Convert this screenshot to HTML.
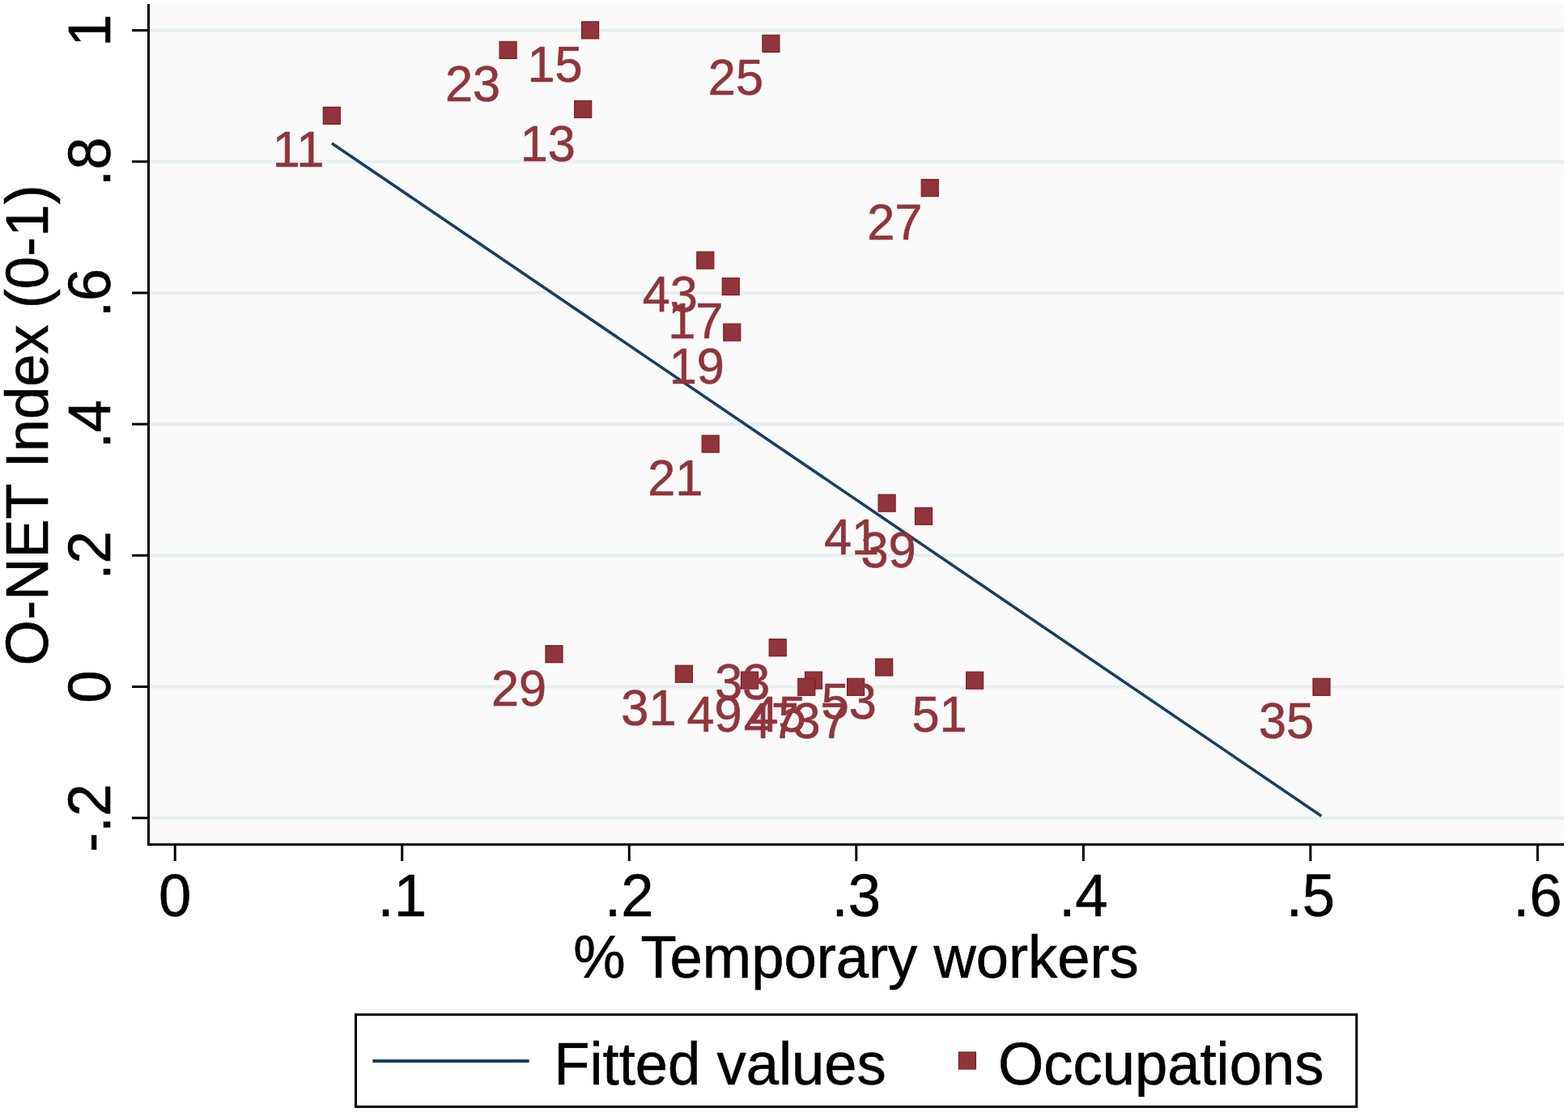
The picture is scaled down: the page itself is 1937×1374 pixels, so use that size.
<!DOCTYPE html>
<html><head><meta charset="utf-8"><title>O-NET Index vs % Temporary workers</title>
<style>html,body{margin:0;padding:0;background:#fff;}svg{display:block;} text{font-family:"Liberation Sans", Arial, Helvetica, sans-serif;}</style></head>
<body>

<svg width="1937" height="1374" viewBox="0 0 1937 1374">
<rect x="187" y="5" width="1745" height="1035" fill="#fafafa"/>
<line x1="187" y1="37.50" x2="1932" y2="37.50" stroke="#e7eff0" stroke-width="4"/>
<line x1="187" y1="199.70" x2="1932" y2="199.70" stroke="#e7eff0" stroke-width="4"/>
<line x1="187" y1="361.90" x2="1932" y2="361.90" stroke="#e7eff0" stroke-width="4"/>
<line x1="187" y1="524.10" x2="1932" y2="524.10" stroke="#e7eff0" stroke-width="4"/>
<line x1="187" y1="686.30" x2="1932" y2="686.30" stroke="#e7eff0" stroke-width="4"/>
<line x1="187" y1="848.50" x2="1932" y2="848.50" stroke="#e7eff0" stroke-width="4"/>
<line x1="187" y1="1010.70" x2="1932" y2="1010.70" stroke="#e7eff0" stroke-width="4"/>
<line x1="409.8" y1="176.9" x2="1632.3" y2="1008.2" stroke="#163f69" stroke-width="3.6"/>
<rect x="399.30" y="132.40" width="21.00" height="21.00" fill="#90353b" stroke="#801c24" stroke-width="1.2"/>
<rect x="709.70" y="124.50" width="21.00" height="21.00" fill="#90353b" stroke="#801c24" stroke-width="1.2"/>
<rect x="718.60" y="26.80" width="21.00" height="21.00" fill="#90353b" stroke="#801c24" stroke-width="1.2"/>
<rect x="892.30" y="343.50" width="21.00" height="21.00" fill="#90353b" stroke="#801c24" stroke-width="1.2"/>
<rect x="893.80" y="400.10" width="21.00" height="21.00" fill="#90353b" stroke="#801c24" stroke-width="1.2"/>
<rect x="867.20" y="538.00" width="21.00" height="21.00" fill="#90353b" stroke="#801c24" stroke-width="1.2"/>
<rect x="617.10" y="51.40" width="21.00" height="21.00" fill="#90353b" stroke="#801c24" stroke-width="1.2"/>
<rect x="941.90" y="43.40" width="21.00" height="21.00" fill="#90353b" stroke="#801c24" stroke-width="1.2"/>
<rect x="1138.20" y="221.70" width="21.00" height="21.00" fill="#90353b" stroke="#801c24" stroke-width="1.2"/>
<rect x="674.00" y="797.70" width="21.00" height="21.00" fill="#90353b" stroke="#801c24" stroke-width="1.2"/>
<rect x="834.40" y="822.20" width="21.00" height="21.00" fill="#90353b" stroke="#801c24" stroke-width="1.2"/>
<rect x="950.20" y="789.70" width="21.00" height="21.00" fill="#90353b" stroke="#801c24" stroke-width="1.2"/>
<rect x="1622.00" y="838.30" width="21.00" height="21.00" fill="#90353b" stroke="#801c24" stroke-width="1.2"/>
<rect x="1046.60" y="838.30" width="21.00" height="21.00" fill="#90353b" stroke="#801c24" stroke-width="1.2"/>
<rect x="1130.50" y="627.30" width="21.00" height="21.00" fill="#90353b" stroke="#801c24" stroke-width="1.2"/>
<rect x="1085.10" y="611.10" width="21.00" height="21.00" fill="#90353b" stroke="#801c24" stroke-width="1.2"/>
<rect x="860.80" y="311.10" width="21.00" height="21.00" fill="#90353b" stroke="#801c24" stroke-width="1.2"/>
<rect x="994.50" y="830.10" width="21.00" height="21.00" fill="#90353b" stroke="#801c24" stroke-width="1.2"/>
<rect x="985.80" y="838.30" width="21.00" height="21.00" fill="#90353b" stroke="#801c24" stroke-width="1.2"/>
<rect x="915.50" y="830.10" width="21.00" height="21.00" fill="#90353b" stroke="#801c24" stroke-width="1.2"/>
<rect x="1193.60" y="830.20" width="21.00" height="21.00" fill="#90353b" stroke="#801c24" stroke-width="1.2"/>
<rect x="1081.70" y="814.00" width="21.00" height="21.00" fill="#90353b" stroke="#801c24" stroke-width="1.2"/>
<text transform="translate(400.40 206.40) scale(1 1.015)" font-size="61.3" text-anchor="end" fill="#90353b" stroke="#90353b" stroke-width="0.6">11</text>
<text transform="translate(710.80 198.50) scale(1 1.015)" font-size="61.3" text-anchor="end" fill="#90353b" stroke="#90353b" stroke-width="0.6">13</text>
<text transform="translate(719.70 100.80) scale(1 1.015)" font-size="61.3" text-anchor="end" fill="#90353b" stroke="#90353b" stroke-width="0.6">15</text>
<text transform="translate(893.40 417.50) scale(1 1.015)" font-size="61.3" text-anchor="end" fill="#90353b" stroke="#90353b" stroke-width="0.6">17</text>
<text transform="translate(894.90 474.10) scale(1 1.015)" font-size="61.3" text-anchor="end" fill="#90353b" stroke="#90353b" stroke-width="0.6">19</text>
<text transform="translate(868.30 612.00) scale(1 1.015)" font-size="61.3" text-anchor="end" fill="#90353b" stroke="#90353b" stroke-width="0.6">21</text>
<text transform="translate(618.20 125.40) scale(1 1.015)" font-size="61.3" text-anchor="end" fill="#90353b" stroke="#90353b" stroke-width="0.6">23</text>
<text transform="translate(943.00 117.40) scale(1 1.015)" font-size="61.3" text-anchor="end" fill="#90353b" stroke="#90353b" stroke-width="0.6">25</text>
<text transform="translate(1139.30 295.70) scale(1 1.015)" font-size="61.3" text-anchor="end" fill="#90353b" stroke="#90353b" stroke-width="0.6">27</text>
<text transform="translate(675.10 871.70) scale(1 1.015)" font-size="61.3" text-anchor="end" fill="#90353b" stroke="#90353b" stroke-width="0.6">29</text>
<text transform="translate(835.50 896.20) scale(1 1.015)" font-size="61.3" text-anchor="end" fill="#90353b" stroke="#90353b" stroke-width="0.6">31</text>
<text transform="translate(951.30 863.70) scale(1 1.015)" font-size="61.3" text-anchor="end" fill="#90353b" stroke="#90353b" stroke-width="0.6">33</text>
<text transform="translate(1623.10 912.30) scale(1 1.015)" font-size="61.3" text-anchor="end" fill="#90353b" stroke="#90353b" stroke-width="0.6">35</text>
<text transform="translate(1047.70 912.30) scale(1 1.015)" font-size="61.3" text-anchor="end" fill="#90353b" stroke="#90353b" stroke-width="0.6">37</text>
<text transform="translate(1131.60 701.30) scale(1 1.015)" font-size="61.3" text-anchor="end" fill="#90353b" stroke="#90353b" stroke-width="0.6">39</text>
<text transform="translate(1086.20 685.10) scale(1 1.015)" font-size="61.3" text-anchor="end" fill="#90353b" stroke="#90353b" stroke-width="0.6">41</text>
<text transform="translate(861.90 385.10) scale(1 1.015)" font-size="61.3" text-anchor="end" fill="#90353b" stroke="#90353b" stroke-width="0.6">43</text>
<text transform="translate(995.60 904.10) scale(1 1.015)" font-size="61.3" text-anchor="end" fill="#90353b" stroke="#90353b" stroke-width="0.6">45</text>
<text transform="translate(986.90 912.30) scale(1 1.015)" font-size="61.3" text-anchor="end" fill="#90353b" stroke="#90353b" stroke-width="0.6">47</text>
<text transform="translate(916.60 904.10) scale(1 1.015)" font-size="61.3" text-anchor="end" fill="#90353b" stroke="#90353b" stroke-width="0.6">49</text>
<text transform="translate(1194.70 904.20) scale(1 1.015)" font-size="61.3" text-anchor="end" fill="#90353b" stroke="#90353b" stroke-width="0.6">51</text>
<text transform="translate(1082.80 888.00) scale(1 1.015)" font-size="61.3" text-anchor="end" fill="#90353b" stroke="#90353b" stroke-width="0.6">53</text>
<g stroke="#000" stroke-width="3" fill="none">
<path d="M183.5 5 V1043.5 H1932" stroke-linejoin="miter"/>
<line x1="163" y1="37.50" x2="183.5" y2="37.50"/>
<line x1="163" y1="199.70" x2="183.5" y2="199.70"/>
<line x1="163" y1="361.90" x2="183.5" y2="361.90"/>
<line x1="163" y1="524.10" x2="183.5" y2="524.10"/>
<line x1="163" y1="686.30" x2="183.5" y2="686.30"/>
<line x1="163" y1="848.50" x2="183.5" y2="848.50"/>
<line x1="163" y1="1010.70" x2="183.5" y2="1010.70"/>
<line x1="216.20" y1="1043.5" x2="216.20" y2="1064"/>
<line x1="496.73" y1="1043.5" x2="496.73" y2="1064"/>
<line x1="777.27" y1="1043.5" x2="777.27" y2="1064"/>
<line x1="1057.80" y1="1043.5" x2="1057.80" y2="1064"/>
<line x1="1338.33" y1="1043.5" x2="1338.33" y2="1064"/>
<line x1="1618.87" y1="1043.5" x2="1618.87" y2="1064"/>
<line x1="1899.40" y1="1043.5" x2="1899.40" y2="1064"/>
</g>
<text transform="translate(136.00 37.50) rotate(-90) scale(1 1.015)" font-size="72.4" text-anchor="middle" fill="#000" stroke="#000" stroke-width="0.6">1</text>
<text transform="translate(136.00 199.70) rotate(-90) scale(1 1.015)" font-size="72.4" text-anchor="middle" fill="#000" stroke="#000" stroke-width="0.6">.8</text>
<text transform="translate(136.00 361.90) rotate(-90) scale(1 1.015)" font-size="72.4" text-anchor="middle" fill="#000" stroke="#000" stroke-width="0.6">.6</text>
<text transform="translate(136.00 524.10) rotate(-90) scale(1 1.015)" font-size="72.4" text-anchor="middle" fill="#000" stroke="#000" stroke-width="0.6">.4</text>
<text transform="translate(136.00 686.30) rotate(-90) scale(1 1.015)" font-size="72.4" text-anchor="middle" fill="#000" stroke="#000" stroke-width="0.6">.2</text>
<text transform="translate(136.00 848.50) rotate(-90) scale(1 1.015)" font-size="72.4" text-anchor="middle" fill="#000" stroke="#000" stroke-width="0.6">0</text>
<text transform="translate(136.00 1010.70) rotate(-90) scale(1 1.015)" font-size="72.4" text-anchor="middle" fill="#000" stroke="#000" stroke-width="0.6">-.2</text>
<text transform="translate(216.20 1131.50) scale(1 1.015)" font-size="72.4" text-anchor="middle" fill="#000" stroke="#000" stroke-width="0.6">0</text>
<text transform="translate(496.73 1131.50) scale(1 1.015)" font-size="72.4" text-anchor="middle" fill="#000" stroke="#000" stroke-width="0.6">.1</text>
<text transform="translate(777.27 1131.50) scale(1 1.015)" font-size="72.4" text-anchor="middle" fill="#000" stroke="#000" stroke-width="0.6">.2</text>
<text transform="translate(1057.80 1131.50) scale(1 1.015)" font-size="72.4" text-anchor="middle" fill="#000" stroke="#000" stroke-width="0.6">.3</text>
<text transform="translate(1338.33 1131.50) scale(1 1.015)" font-size="72.4" text-anchor="middle" fill="#000" stroke="#000" stroke-width="0.6">.4</text>
<text transform="translate(1618.87 1131.50) scale(1 1.015)" font-size="72.4" text-anchor="middle" fill="#000" stroke="#000" stroke-width="0.6">.5</text>
<text transform="translate(1899.40 1131.50) scale(1 1.015)" font-size="72.4" text-anchor="middle" fill="#000" stroke="#000" stroke-width="0.6">.6</text>
<text transform="translate(58.60 525.40) rotate(-90) scale(1 1.02)" font-size="72.4" text-anchor="middle" fill="#000" stroke="#000" stroke-width="0.6">O-NET Index (0-1)</text>
<text transform="translate(1057.50 1207.50) scale(1 1.02)" font-size="72.4" text-anchor="middle" fill="#000" stroke="#000" stroke-width="0.6">% Temporary workers</text>
<rect x="439.5" y="1253.7" width="1236.3" height="113.8" fill="#fff" stroke="#000" stroke-width="3"/>
<line x1="460.3" y1="1310.9" x2="653.7" y2="1310.9" stroke="#163f69" stroke-width="4"/>
<text transform="translate(684.30 1339.60) scale(1 1.02)" font-size="72.4" text-anchor="start" fill="#000" stroke="#000" stroke-width="0.6">Fitted values</text>
<rect x="1184.40" y="1300.00" width="21.00" height="21.00" fill="#90353b" stroke="#801c24" stroke-width="1.2"/>
<text transform="translate(1233.00 1339.70) scale(1 1.02)" font-size="72.4" text-anchor="start" fill="#000" stroke="#000" stroke-width="0.6">Occupations</text>
</svg>
</body></html>
